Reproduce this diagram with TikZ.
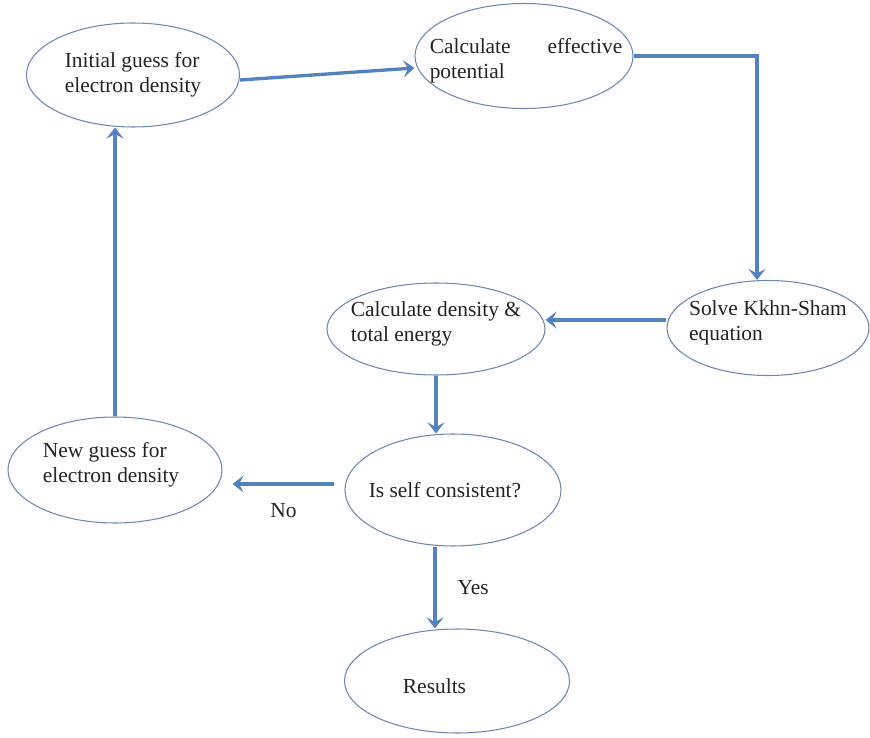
\documentclass[tikz,border=0pt]{standalone}
\usepackage{fontspec}
\setmainfont{Liberation Serif}
\usetikzlibrary{shapes.geometric, arrows.meta, positioning, calc}
\definecolor{flowblue}{RGB}{84,130,190}
\definecolor{rimblue}{RGB}{110,135,175}
\definecolor{txtgray}{RGB}{35,35,35}

\begin{document}
\begin{tikzpicture}[
>={Stealth[length=2.2mm,width=3.4mm,inset=0.9mm]},
blob/.style={draw=rimblue, line width=0.6pt, ellipse, inner sep=0pt},
txt/.style={text=txtgray, font=\fontsize{12.2}{14.2}\selectfont, align=left},
flow/.style={->, draw=flowblue, line width=1.9pt}
]
\useasboundingbox (0,0) rectangle (17.4,14.74);

% --- Ellipses ---
\node[blob, minimum width=4.26cm, minimum height=2.08cm,
  label={[txt]center:Initial guess for\\electron density}] (init) at (2.66,13.24) {};
\node[blob, minimum width=4.36cm, minimum height=2.1cm,
  label={[txt, text width=3.85cm, xshift=0.04cm, yshift=-0.1cm]center:Calculate\hfill effective\\potential}] (effpot) at (10.48,13.62) {};
\node[blob, minimum width=4.04cm, minimum height=1.9cm,
  label={[txt, yshift=0.1cm]center:Solve Kkhn-Sham\\equation}] (solve) at (15.36,8.18) {};
\node[blob, minimum width=4.36cm, minimum height=1.84cm,
  label={[txt, yshift=0.1cm]center:Calculate density \&\\total energy}] (dens) at (8.72,8.16) {};
\node[blob, minimum width=4.28cm, minimum height=2.12cm,
  label={[txt, xshift=-0.08cm, yshift=0.1cm]center:New guess for\\electron density}] (newg) at (2.3,5.34) {};
\node[blob, minimum width=4.32cm, minimum height=2.24cm,
  label={[txt, xshift=-0.16cm]center:Is self consistent?}] (selfc) at (9.06,4.94) {};
\node[blob, minimum width=4.5cm, minimum height=2.08cm,
  label={[txt, xshift=-0.45cm, yshift=-0.1cm]center:Results}] (results) at (9.14,1.12) {};

% --- Boucle principale ---
\draw[flow] ([yshift=-0.1cm]init.east) -- ([yshift=-0.24cm]effpot.west);
\draw[flow] (effpot.east) -| ([xshift=-0.22cm]solve.north);
\draw[flow] ([yshift=0.16cm]solve.west) -- ([yshift=0.16cm]solve.west -| dens.east);
\draw[flow] (dens.south) -- (dens.south |- selfc.north);

% --- Test de convergence ---
\draw[flow, shorten <=0.2cm, shorten >=0.2cm] ([yshift=0.12cm]selfc.west) -- ([yshift=0.12cm]selfc.west -| newg.east)
  node[txt, midway, below=0.24cm] (no) {No};
\draw[flow] ([xshift=-0.36cm]selfc.south) -- ([xshift=-0.36cm]selfc.south |- results.north)
  node[txt, midway, right=0.3cm] (yes) {Yes};
\draw[flow] (newg.north) -- (newg.north |- init.south);

\end{tikzpicture}
\end{document}
